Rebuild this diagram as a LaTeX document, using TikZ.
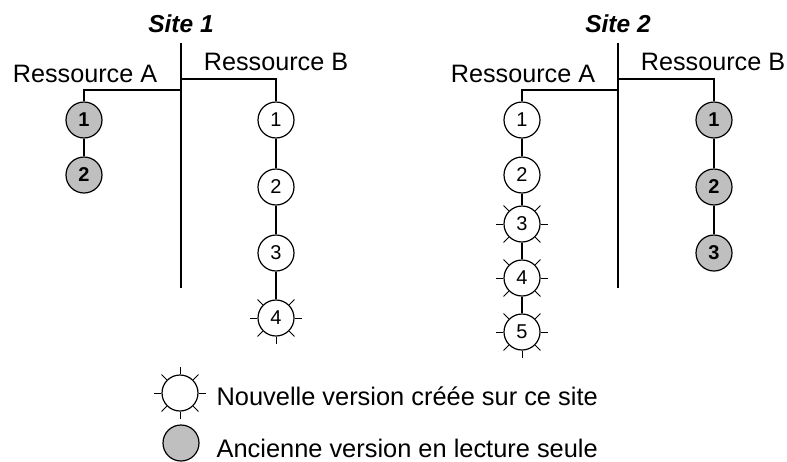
\documentclass[tikz,border=0pt]{standalone}
\usepackage{fontspec}
\setmainfont{Liberation Sans}
\begin{document}
\begin{tikzpicture}[x=1pt,y=-1pt,line width=1.2pt,
  ver/.style={circle,draw,minimum size=36pt,inner sep=0pt,font=\fontsize{20}{20}\selectfont},
  oldver/.style={ver,fill=black!25,font=\fontsize{20}{20}\selectfont\bfseries},
  lbl/.style={anchor=base,inner sep=0pt,font=\fontsize{25.2}{25.2}\selectfont},
  ttl/.style={lbl,font=\fontsize{24.5}{24.5}\selectfont\bfseries\itshape},
  lgd/.style={anchor=base west,inner sep=0pt,font=\fontsize{25.4}{25.4}\selectfont}]
\useasboundingbox (0,0) rectangle (787,461);
\newcommand{\sunrays}[1]{\foreach \a in {0,45,...,315} \draw[line width=1pt] (#1.\a) -- ([shift={(\a:7.5pt)}]#1.\a);}
% Site 1
\node[ttl] (t1) at (181,32) {Site 1};
\coordinate (s1top) at (181,43);
\coordinate (s1bot) at (181,288);
\draw (s1top) -- (s1bot);
\node[lbl] (r1a) at (85,82) {Ressource A};
\node[lbl] (r1b) at (276,70) {Ressource B};
\coordinate (j1a) at (181,90);
\coordinate (j1b) at (181,79);
\node[oldver] (a11) at (84,120) {1};
\node[oldver] (a12) at (84,175) {2};
\node[ver] (b11) at (276,120) {1};
\node[ver] (b12) at (276,187) {2};
\node[ver] (b13) at (276,253) {3};
\node[ver] (b14) at (276,318) {4};
\sunrays{b14}
\draw (j1a) -| (a11);
\draw (a11) -- (a12);
\draw (j1b) -| (b11);
\draw (b11) -- (b12);
\draw (b12) -- (b13);
\draw (b13) -- (b14);
% Site 2
\node[ttl] (t2) at (618,32) {Site 2};
\coordinate (s2top) at (618,43);
\coordinate (s2bot) at (618,288);
\draw (s2top) -- (s2bot);
\node[lbl] (r2a) at (523,82) {Ressource A};
\node[lbl] (r2b) at (713,70) {Ressource B};
\coordinate (j2a) at (618,90);
\coordinate (j2b) at (618,79);
\node[ver] (a21) at (522,120) {1};
\node[ver] (a22) at (522,175) {2};
\node[ver] (a23) at (522,224) {3};
\node[ver] (a24) at (522,278) {4};
\node[ver] (a25) at (522,332) {5};
\sunrays{a23}
\sunrays{a24}
\sunrays{a25}
\node[oldver] (b21) at (714,120) {1};
\node[oldver] (b22) at (714,187) {2};
\node[oldver] (b23) at (714,253) {3};
\draw (j2a) -| (a21);
\draw (a21) -- (a22);
\draw (a22) -- (a23);
\draw (a23) -- (a24);
\draw (a24) -- (a25);
\draw (j2b) -| (b21);
\draw (b21) -- (b22);
\draw (b22) -- (b23);
% Legend
\node[ver] (lnew) at (180,393) {};
\sunrays{lnew}
\node[oldver] (lold) at (181,443) {};
\node[lgd] (tnew) at (216,405) {Nouvelle version créée sur ce site};
\node[lgd] (told) at (216,457) {Ancienne version en lecture seule};
\end{tikzpicture}
\end{document}
